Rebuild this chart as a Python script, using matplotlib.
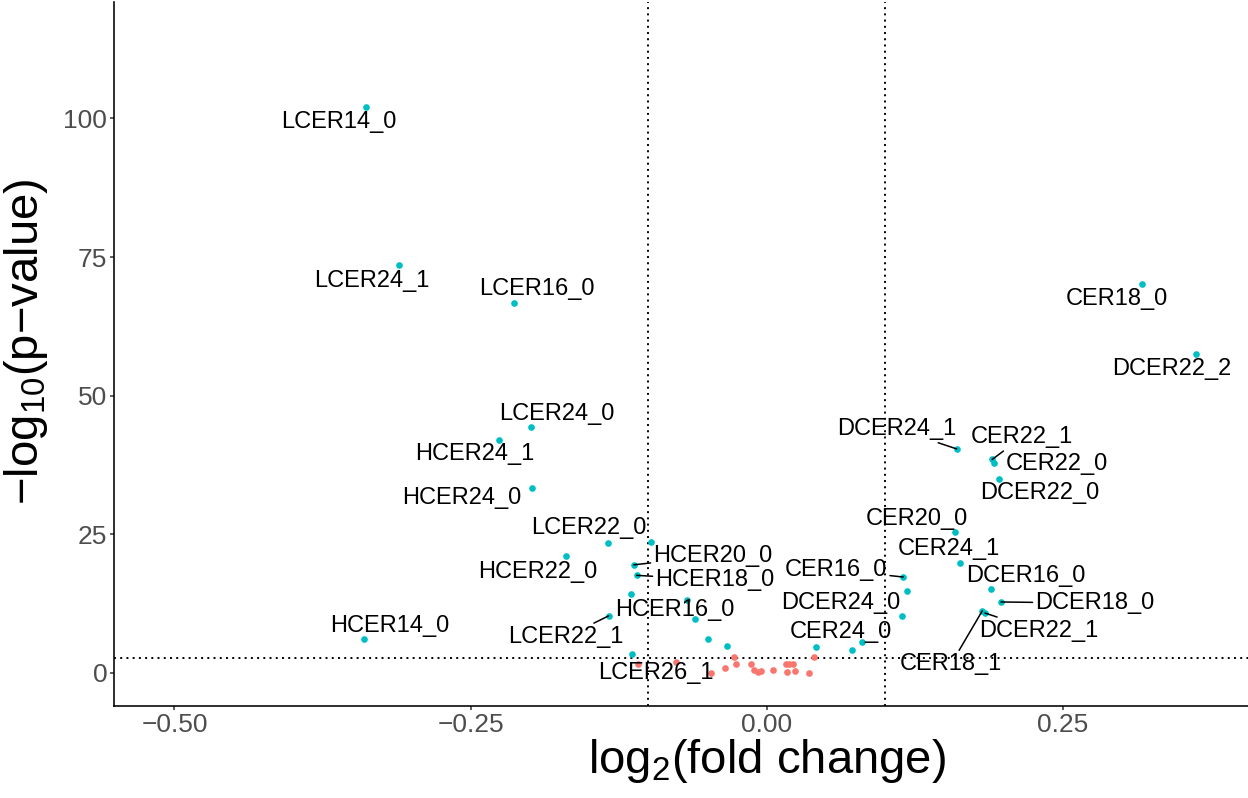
import matplotlib
matplotlib.use("Agg")
import matplotlib.pyplot as plt

plt.rcParams.update({"font.family": ["Liberation Sans", "DejaVu Sans"], "mathtext.default": "regular"})

C_SIG = "#00BFC4"; C_NS = "#F8766D"

# labelled lipid species (significant)
names = ["LCER14_0", "LCER24_1", "LCER16_0", "LCER24_0", "HCER24_1", "HCER24_0", "LCER22_0",
         "HCER22_0", "HCER20_0", "HCER18_0", "HCER16_0", "LCER22_1", "HCER14_0", "LCER26_1",
         "CER18_0", "DCER22_2", "DCER24_1", "CER22_1", "CER22_0", "DCER22_0", "CER20_0",
         "CER24_1", "CER16_0", "DCER16_0", "DCER18_0", "DCER22_1", "CER18_1", "DCER24_0", "CER24_0"]
fc = [-0.3386, -0.3107, -0.2136, -0.1990, -0.2263, -0.1984, -0.1338,
      -0.1697, -0.1123, -0.1098, -0.0674, -0.1335, -0.3397, -0.1135,
      0.3170, 0.3620, 0.1603, 0.1902, 0.1922, 0.1956, 0.1589,
      0.1631, 0.1152, 0.1890, 0.1977, 0.1842, 0.1819, 0.1141, 0.0806]
nlp = [102.1, 73.5, 66.8, 44.3, 42.1, 33.4, 23.5,
       21.1, 19.5, 17.6, 13.2, 10.3, 6.1, 3.4,
       70.2, 57.6, 40.4, 38.5, 37.9, 35.0, 25.4,
       19.8, 17.3, 15.1, 12.8, 10.8, 11.2, 10.2, 5.5]
# label positions (repelled)
lab_x = [-0.3609, -0.3333, -0.1940, -0.1771, -0.2463, -0.2573, -0.1501,
         -0.1931, -0.0454, -0.0437, -0.0775, -0.1695, -0.3181, -0.0935,
         0.2956, 0.3420, 0.1099, 0.2154, 0.2449, 0.2306, 0.1268,
         0.1538, 0.0584, 0.2188, 0.2770, 0.2298, 0.1555, 0.0626, 0.0626]
lab_y = [99.3, 70.7, 69.2, 46.7, 39.5, 31.5, 26.1,
         18.2, 21.1, 16.8, 11.4, 6.5, 8.5, 0.0,
         67.4, 54.8, 44.0, 42.5, 37.7, 32.4, 27.8,
         22.4, 18.6, 17.5, 12.6, 7.6, 1.6, 12.6, 7.4]
seg = [0, 0, 0, 0, 0, 0, 0,
       0, 1, 1, 0, 1, 0, 0,
       0, 0, 1, 1, 0, 0, 0,
       0, 1, 0, 1, 1, 1, 0, 0]

# significant, unlabelled
sig_fc = [-0.0977, -0.1146, -0.0604, -0.0494, -0.0338, 0.1181, 0.0722, 0.0418]
sig_p = [23.6, 14.3, 9.7, 6.1, 4.9, 14.8, 4.1, 4.6]

# not significant
ns_fc = [-0.1085, -0.0766, -0.0474, -0.0274, -0.0260, -0.0355, -0.0131, -0.0108, -0.0077,
         -0.0049, 0.0055, 0.0162, 0.0190, 0.0219, 0.0171, 0.0235, 0.0354, 0.0398]
ns_p = [1.6, 2.0, 0.05, 2.9, 1.7, 0.9, 1.6, 0.5, 0.2,
        0.4, 0.5, 1.6, 1.7, 1.6, 0.1, 0.4, 0.05, 2.8]

fc_cut = 0.1
p_cut = 2.76
xticks = [-0.5, -0.25, 0.0, 0.25]
xticklabels = ["\u22120.50", "\u22120.25", "0.00", "0.25"]
yticks = [0, 25, 50, 75, 100]

fig = plt.figure(figsize=(12.48, 7.98), dpi=100)
ax = fig.add_axes([0.0916, 0.1157, 0.9084, 0.8818])

ax.scatter(ns_fc, ns_p, s=23, color=C_NS, linewidths=0, zorder=3)
ax.scatter(sig_fc, sig_p, s=23, color=C_SIG, linewidths=0, zorder=3)
ax.scatter(fc, nlp, s=23, color=C_SIG, linewidths=0, zorder=3)

for v in (-fc_cut, fc_cut):
    ax.axvline(v, color="black", lw=1.4, ls=(0, (1, 2.2)), zorder=2)
ax.axhline(p_cut, color="black", lw=1.4, ls=(0, (1, 2.2)), zorder=2)

for i, n in enumerate(names):
    if seg[i]:
        ax.annotate(n, xy=(fc[i], nlp[i]), xytext=(lab_x[i], lab_y[i]), ha="center", va="center",
                    fontsize=17, zorder=4,
                    arrowprops=dict(arrowstyle="-", color="black", lw=1.1, shrinkA=0, shrinkB=0))
    else:
        ax.text(lab_x[i], lab_y[i], n, ha="center", va="center", fontsize=17, zorder=4)

ax.set_xlim(-0.5508, 0.4062)
ax.set_ylim(-5.9, 121.0)
ax.set_xticks(xticks); ax.set_xticklabels(xticklabels)
ax.set_yticks(yticks)
ax.tick_params(labelsize=19, labelcolor="#4D4D4D", color="#333333", length=3, width=1.1, pad=2)
for s in ("top", "right"):
    ax.spines[s].set_visible(False)
for s in ("left", "bottom"):
    ax.spines[s].set_linewidth(1.15)

ax.set_xlabel("log$_{2}$(fold change)", fontsize=34)
ax.xaxis.set_label_coords(0.5755, -0.045)
ax.set_ylabel("\u2212log$_{10}$(p\u2212value)", fontsize=34)
ax.yaxis.set_label_coords(-0.057, 0.517)

fig.savefig("out.png", dpi=100, facecolor="white")
